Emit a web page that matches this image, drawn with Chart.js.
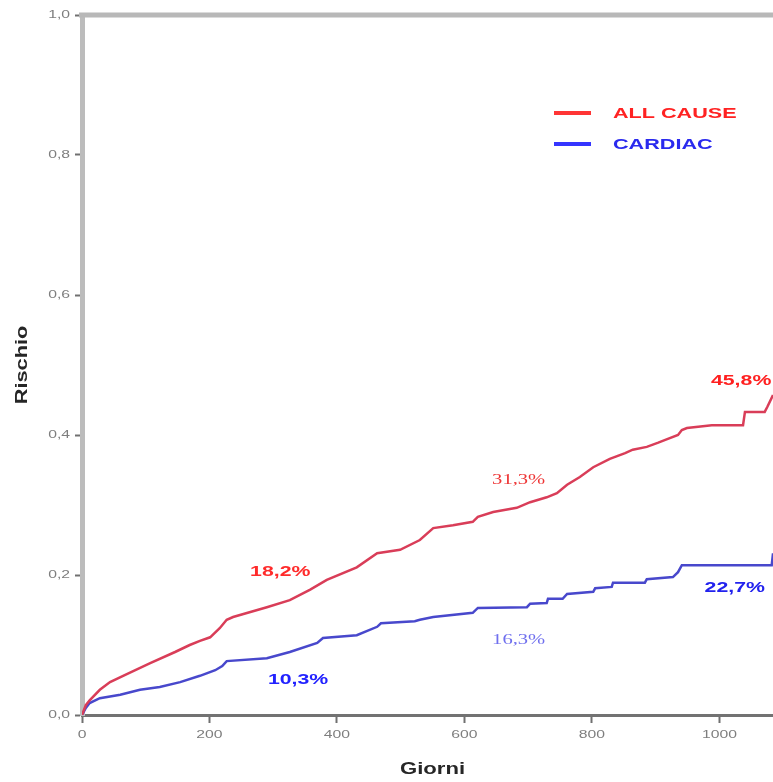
<!DOCTYPE html>
<html><head><meta charset="utf-8">
<script src="https://cdn.jsdelivr.net/npm/chart.js@4"></script>
<style>html,body{margin:0;padding:0;background:#fff;overflow:hidden}#wrap{width:773px;height:782px;position:relative}</style>
</head><body><div id="wrap"><canvas id="c"></canvas></div>
<script>
// ---- data ----
const seriesNames = ['ALL CAUSE', 'CARDIAC'];
const allCauseDays = [0,6,12,28,44,67,107,146,169,185,201,216,227,237,290,326,358,384,431,463,499,530,551,582,613,621,645,682,703,729,745,761,781,802,828,852,864,886,904,915,935,941,949,988,1037,1040,1071,1075,1084];
const allCauseRisk = [0,0.014,0.021,0.036,0.047,0.057,0.074,0.090,0.100,0.106,0.111,0.124,0.136,0.140,0.154,0.164,0.179,0.193,0.211,0.231,0.236,0.250,0.267,0.271,0.276,0.283,0.290,0.296,0.304,0.311,0.317,0.329,0.340,0.354,0.366,0.374,0.379,0.383,0.389,0.393,0.400,0.407,0.410,0.414,0.414,0.433,0.433,0.440,0.457];
const cardiacDays = [0,6,12,28,60,91,122,154,185,209,220,227,290,326,369,378,431,463,469,522,530,551,613,621,698,703,729,731,754,761,802,805,831,833,883,886,927,935,941,1082,1084];
const cardiacRisk = [0,0.010,0.017,0.024,0.029,0.036,0.040,0.047,0.056,0.064,0.070,0.077,0.081,0.090,0.103,0.110,0.114,0.126,0.131,0.134,0.136,0.140,0.146,0.153,0.154,0.159,0.160,0.166,0.166,0.173,0.176,0.181,0.183,0.189,0.189,0.194,0.197,0.204,0.214,0.214,0.231];
const xTickValues = [0, 200, 400, 600, 800, 1000];
const xTickLabels = ['0', '200', '400', '600', '800', '1000'];
const yTickValues = [0, 0.2, 0.4, 0.6, 0.8, 1.0];
const yTickLabels = ['0,0', '0,2', '0,4', '0,6', '0,8', '1,0'];
const xTitle = 'Giorni';
const yTitle = 'Rischio';
const labelTexts = ['18,2%', '10,3%', '31,3%', '16,3%', '45,8%', '22,7%'];
const labelDays  = [311, 339, 685, 685, 1034, 1024];
const labelRisk  = [0.204, 0.050, 0.336, 0.107, 0.477, 0.181];

// ---- styles ----
const labelStyles = [
  {font:'bold 15px Arial, "Liberation Sans"', color:'#ff2b2b', sx:1.42},
  {font:'bold 15px Arial, "Liberation Sans"', color:'#2222ff', sx:1.42},
  {font:'15px "Liberation Serif", "Times New Roman", serif', color:'#ee3535', sx:1.37},
  {font:'15px "Liberation Serif", "Times New Roman", serif', color:'#6f6fee', sx:1.37},
  {font:'bold 15px Arial, "Liberation Sans"', color:'#ff2020', sx:1.42},
  {font:'bold 15px Arial, "Liberation Sans"', color:'#2222ee', sx:1.42}
];
const seriesLineColors = ['#d93d58', '#4848cc'];
const legendColors = ['#ff3535', '#3535ff'];
const legendTextColors = ['#ff2222', '#2a2aee'];

function stretchText(ctx, text, x, y, font, color, sx, align) {
  ctx.save();
  ctx.font = font; ctx.fillStyle = color; ctx.textBaseline = 'middle'; ctx.textAlign = 'left';
  const w = ctx.measureText(text).width * sx;
  const left = align === 'center' ? x - w / 2 : align === 'right' ? x - w : x;
  ctx.translate(left, y); ctx.scale(sx, 1);
  ctx.fillText(text, 0, 0);
  ctx.restore();
}

const decor = {
  id: 'decor',
  afterDraw(chart) {
    const ctx = chart.ctx, ca = chart.chartArea;
    const xs = chart.scales.x, ys = chart.scales.y;
    // top frame line
    ctx.save();
    ctx.strokeStyle = '#b8b8b8'; ctx.lineWidth = 5;
    ctx.beginPath(); ctx.moveTo(ca.left - 3, ca.top); ctx.lineTo(ca.right, ca.top); ctx.stroke();
    ctx.restore();
    // tick labels
    xTickValues.forEach((v, i) => stretchText(ctx, xTickLabels[i], xs.getPixelForValue(v), ca.bottom + 20, '11px Arial, "Liberation Sans"', '#7e7e7e', 1.43, 'center'));
    yTickValues.forEach((v, i) => stretchText(ctx, yTickLabels[i], ca.left - 12, ys.getPixelForValue(v), '11px Arial, "Liberation Sans"', '#7e7e7e', 1.43, 'right'));
    // axis titles
    stretchText(ctx, xTitle, (ca.left + ca.right) / 2 + 5, 769, 'bold 17px Arial, "Liberation Sans"', '#262626', 1.3, 'center');
    ctx.save();
    ctx.translate(22, (ca.top + ca.bottom) / 2);
    ctx.rotate(-Math.PI / 2);
    stretchText(ctx, yTitle, 0, 0, 'bold 17px Arial, "Liberation Sans"', '#262626', 1.28, 'center');
    ctx.restore();
    // legend
    const legY = [113, 144];
    seriesNames.forEach((n, i) => {
      ctx.save();
      ctx.strokeStyle = legendColors[i]; ctx.lineWidth = 4;
      ctx.beginPath(); ctx.moveTo(554, legY[i]); ctx.lineTo(591, legY[i]); ctx.stroke();
      ctx.restore();
      stretchText(ctx, n, 613, legY[i] + 1, 'bold 15px Arial, "Liberation Sans"', legendTextColors[i], 1.44, 'left');
    });
    // value labels
    labelTexts.forEach((t, i) => {
      const s = labelStyles[i];
      stretchText(ctx, t, xs.getPixelForValue(labelDays[i]), ys.getPixelForValue(labelRisk[i]), s.font, s.color, s.sx, 'center');
    });
  }
};

const toPts = (xs, ys) => xs.map((x, i) => ({x, y: ys[i]}));

new Chart(document.getElementById('c'), {
  type: 'line',
  data: {
    datasets: [
      {label: seriesNames[0], data: toPts(allCauseDays, allCauseRisk), borderColor: seriesLineColors[0], borderWidth: 2.5, pointRadius: 0, tension: 0, fill: false},
      {label: seriesNames[1], data: toPts(cardiacDays, cardiacRisk), borderColor: seriesLineColors[1], borderWidth: 2.5, pointRadius: 0, tension: 0, fill: false}
    ]
  },
  options: {
    responsive: true, maintainAspectRatio: false, animation: false, devicePixelRatio: 1,
    layout: {padding: {top: 15, right: 0, bottom: 0, left: 0}},
    plugins: {legend: {display: false}, tooltip: {enabled: false}},
    scales: {
      x: {
        type: 'linear', min: 0, max: 1084,
        ticks: {stepSize: 200, includeBounds: false, display: false},
        grid: {drawOnChartArea: false, drawTicks: true, tickLength: 8, tickColor: '#707070', tickWidth: 2},
        border: {color: '#727272', width: 3},
        afterFit: s => { s.height = 67; }
      },
      y: {
        type: 'linear', min: 0, max: 1,
        ticks: {stepSize: 0.2, display: false},
        grid: {drawOnChartArea: false, drawTicks: true, tickLength: 7, tickColor: '#707070', tickWidth: 2},
        border: {color: '#bcbcbc', width: 5},
        afterFit: s => { s.width = 82; }
      }
    }
  },
  plugins: [decor]
});
</script>
</body></html>
